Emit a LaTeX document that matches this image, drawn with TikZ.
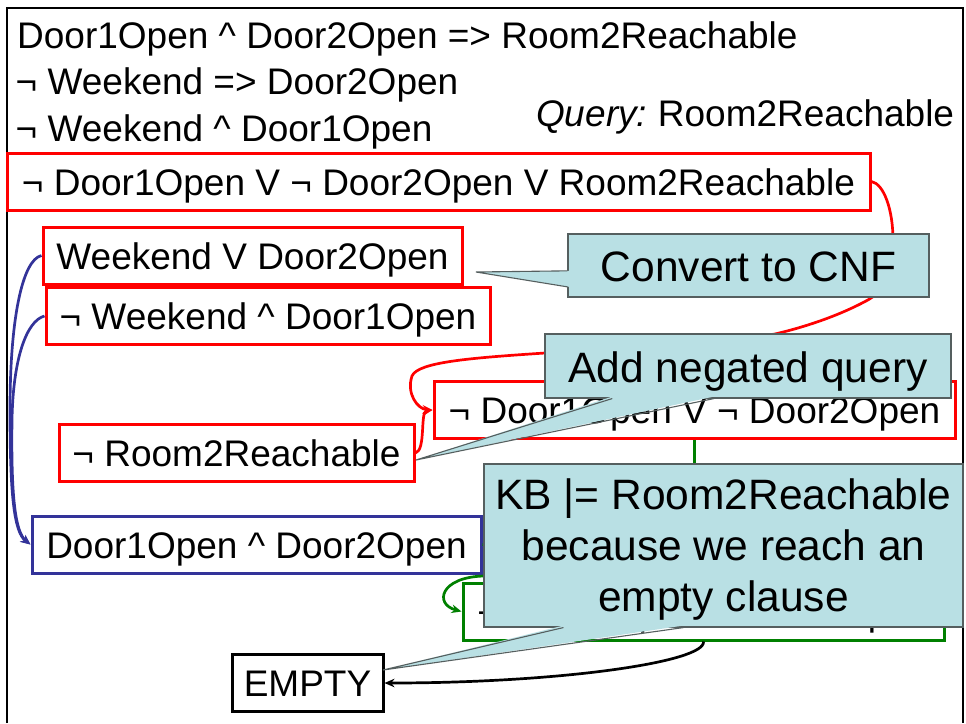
\documentclass[tikz,border=0pt]{standalone}
\usepackage{fontspec}
\setmainfont{Liberation Sans}
\usetikzlibrary{arrows.meta,calc}

\definecolor{cluered}{RGB}{255,0,0}
\definecolor{clueblue}{RGB}{51,51,153}
\definecolor{cluegreen}{RGB}{0,128,0}
\definecolor{notefill}{RGB}{185,224,228}
\definecolor{noteline}{RGB}{85,95,95}

\tikzset{
  plain/.style={font=\fontsize{37}{44}\selectfont, inner sep=0pt, anchor=base west},
  clause/.style={font=\fontsize{37}{44}\selectfont, draw, line width=3pt, fill=white,
    minimum height=57pt, inner xsep=4pt, inner ysep=0pt, text height=27pt, text depth=0pt},
  redbox/.style={clause, draw=cluered},
  bluebox/.style={clause, draw=clueblue},
  greenbox/.style={clause, draw=cluegreen},
  blackbox/.style={clause, draw=black},
  note/.style={fill=notefill, draw=noteline, line width=1.1pt,
    font=\fontsize{42.5}{51}\selectfont, inner sep=0pt},
  noteone/.style={note, text height=32pt, text depth=0pt},
  notemulti/.style={note, align=center, text depth=0pt},
  tailedge/.style={draw=noteline, line width=1.1pt},
  link/.style={line width=2.7pt, -{Stealth[length=10pt,width=8.5pt]}},
  frame/.style={line width=2.6pt, draw=black},
}

\begin{document}
\begin{tikzpicture}[x=1pt,y=-1pt]
\useasboundingbox (0,0) rectangle (966,723);
\fill[white] (0,0) rectangle (966,723);

% slide frame, open at the bottom
\draw[frame] (7,723) -- (7,8) -- (963,8) -- (963,723);

% knowledge base and query
\node[plain] (kb1) at (17,48) {Door1Open \textasciicircum{} Door2Open => Room2Reachable};
\node[plain] (kb2) at (15.5,94) {¬ Weekend => Door2Open};
\node[plain] (kb3) at (15.5,141) {¬ Weekend \textasciicircum{} Door1Open};
\node[plain] (query) at (536,126) {\textit{Query:}\kern-3pt{} Room2Reachable};

% clauses
\node[redbox, minimum width=863pt] (A) at (438.5,181.5) {¬ Door1Open V ¬ Door2Open V Room2Reachable};
\node[redbox, minimum width=419pt] (B) at (252.5,255.5) {Weekend V Door2Open};
\node[redbox, minimum width=444pt] (C) at (268,316) {¬ Weekend \textasciicircum{} Door1Open};
\node[redbox, minimum width=521pt] (D) at (694.5,410) {¬ Door1Open V ¬ Door2Open};
\node[redbox, minimum width=355pt] (E) at (236.5,453) {¬ Room2Reachable};
\node[bluebox, minimum width=449pt] (F) at (256.5,544.5) {Door1Open \textasciicircum{} Door2Open};
\node[greenbox, minimum width=481pt] (G) at (703.5,611.5) {¬ Door2Open \textasciicircum{} Door2Open};
\node[blackbox, minimum width=151pt] (empty) at (307.5,683) {EMPTY};

% resolution steps
\draw[link, draw=cluered] (A.east) .. controls (884,184) and (893,210) .. (893,240)
  .. controls (893,272) and (884,292) .. (866,301)
  .. controls (838,316) and (805,327) .. (775,334)
  .. controls (700,346) and (600,348) .. (545,353)
  .. controls (470,358) and (418,362) .. (412,376)
  .. controls (406,394) and (418,409) .. (D.west);
\draw[link, draw=cluered] (E.east) .. controls (426,450) and (420,412) .. (D.west);

\draw[link, draw=clueblue] (B.west) .. controls (22,260) and (10,320) .. (10,410)
  .. controls (10,495) and (14,532) .. (F.west);
\draw[link, draw=clueblue] (C.west) .. controls (26,321) and (13,360) .. (12,420)
  .. controls (11,495) and (15,532) .. (F.west);

\draw[line width=2.7pt, draw=cluegreen] (F.east) .. controls (530,545) and (560,575) .. (620,575);
\draw[link, draw=cluegreen] (D.south) -- (694.5,548) .. controls (694.5,568) and (680,575) .. (655,575)
  -- (484,576) .. controls (440,577) and (434,604) .. (G.west);

\draw[link, draw=black] (G.south) .. controls (706,662) and (560,683) .. (empty.east);

% callouts
\node[noteone, minimum width=361pt, minimum height=63pt] (cnf) at (748.5,265.5) {Convert to CNF};
\coordinate (cnftip) at (476,272);
\fill[notefill] ($(cnf.north west)!7/12!(cnf.south west)+(2,0)$) -- (cnftip)
  -- ($(cnf.north west)!10/12!(cnf.south west)+(2,0)$) -- cycle;
\draw[tailedge] ($(cnf.north west)!7/12!(cnf.south west)$) -- (cnftip)
  -- ($(cnf.north west)!10/12!(cnf.south west)$);

\node[noteone, minimum width=406pt, minimum height=64pt] (neg) at (748,366) {Add negated query};
\coordinate (negtip) at (416,460);
\fill[notefill] ($(neg.south west)!1/6!(neg.south east)+(0,-2)$) -- (negtip)
  -- ($(neg.south west)!5/12!(neg.south east)+(0,-2)$) -- cycle;
\draw[tailedge] ($(neg.south west)!1/6!(neg.south east)$) -- (negtip)
  -- ($(neg.south west)!5/12!(neg.south east)$);

\node[notemulti, minimum width=479pt, minimum height=163pt] (kb) at (723.5,545.5)
  {KB |= Room2Reachable\\because we reach an\\empty clause};
\coordinate (kbtip) at (383,670);
\fill[notefill] ($(kb.south west)!1/6!(kb.south east)+(0,-2)$) -- (kbtip)
  -- ($(kb.south west)!5/12!(kb.south east)+(0,-2)$) -- cycle;
\draw[tailedge] ($(kb.south west)!1/6!(kb.south east)$) -- (kbtip)
  -- ($(kb.south west)!5/12!(kb.south east)$);
\end{tikzpicture}
\end{document}
